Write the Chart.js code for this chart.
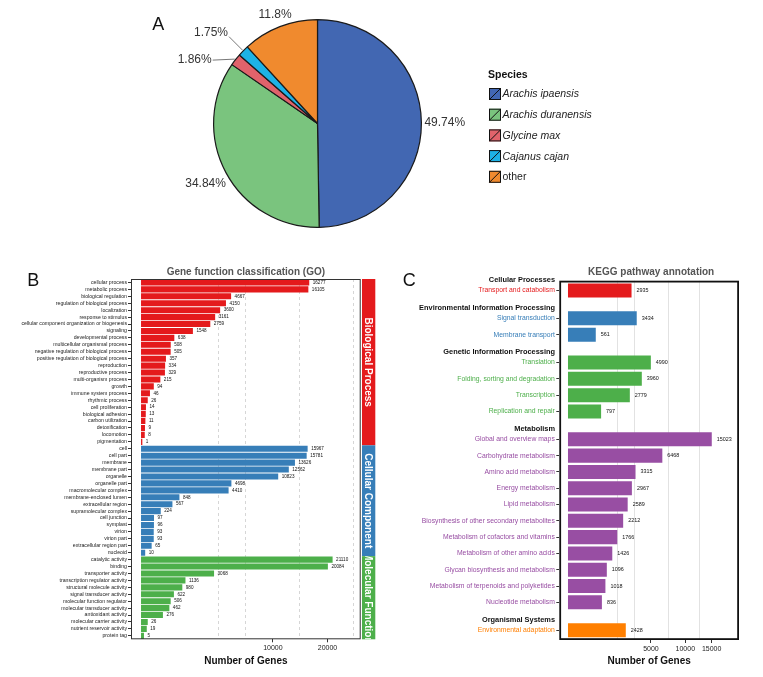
<!DOCTYPE html>
<html>
<head>
<meta charset="utf-8">
<title>Gene annotation</title>
<script src="https://cdn.jsdelivr.net/npm/chart.js@4.4.1/dist/chart.umd.min.js"></script>
<style>
  html, body { margin: 0; padding: 0; background: #fff; }
  body { position: relative; width: 763px; height: 677px; overflow: hidden; }
  canvas { position: absolute; }
</style>
</head>
<body>
<canvas id="pie" width="763" height="250" style="left:0;top:0"></canvas>
<canvas id="go" width="385" height="427" style="left:0;top:250px"></canvas>
<canvas id="kegg" width="378" height="427" style="left:385px;top:250px"></canvas>
<script>
// ---- data ----
const species = ['Arachis ipaensis', 'Arachis duranensis', 'Glycine max', 'Cajanus cajan', 'other'];
const speciesShare = [49.74, 34.84, 1.86, 1.75, 11.8];

const bpTerms = ['cellular process', 'metabolic process', 'biological regulation', 'regulation of biological process',
  'localization', 'response to stimulus', 'cellular component organization or biogenesis', 'signaling',
  'developmental process', 'multicellular organismal process', 'negative regulation of biological process',
  'positive regulation of biological process', 'reproduction', 'reproductive process', 'multi-organism process',
  'growth', 'immune system process', 'rhythmic process', 'cell proliferation', 'biological adhesion',
  'carbon utilization', 'detoxification', 'locomotion', 'pigmentation'];
const bpCounts = [16277, 16105, 4667, 4150, 3600, 3161, 2759, 1548, 638, 508, 505, 357, 334, 329, 215, 94, 46, 26, 14, 13, 11, 9, 8, 1];

const ccTerms = ['cell', 'cell part', 'membrane', 'membrane part', 'organelle', 'organelle part', 'macromolecular complex',
  'membrane-enclosed lumen', 'extracellular region', 'supramolecular complex', 'cell junction', 'symplast',
  'virion', 'virion part', 'extracellular region part', 'nucleoid'];
const ccCounts = [15967, 15781, 13626, 12562, 10823, 4698, 4410, 848, 567, 224, 97, 96, 93, 93, 65, 10];

const mfTerms = ['catalytic activity', 'binding', 'transporter activity', 'transcription regulator activity',
  'structural molecule activity', 'signal transducer activity', 'molecular function regulator',
  'molecular transducer activity', 'antioxidant activity', 'molecular carrier activity',
  'nutrient reservoir activity', 'protein tag'];
const mfCounts = [21110, 20084, 3068, 1136, 980, 622, 506, 462, 276, 26, 19, 5];

const goTicks = [10000, 20000];
const goGrid = [3434, 6300, 14525, 26080];

const keggGroups = ['Cellular Processes', 'Environmental Information Processing', 'Genetic Information Processing',
  'Metabolism', 'Organismal Systems'];
const keggPathways = [
  ['Transport and catabolism'],
  ['Signal transduction', 'Membrane transport'],
  ['Translation', 'Folding, sorting and degradation', 'Transcription', 'Replication and repair'],
  ['Global and overview maps', 'Carbohydrate metabolism', 'Amino acid metabolism', 'Energy metabolism',
   'Lipid metabolism', 'Biosynthesis of other secondary metabolites', 'Metabolism of cofactors and vitamins',
   'Metabolism of other amino acids', 'Glycan biosynthesis and metabolism',
   'Metabolism of terpenoids and polyketides', 'Nucleotide metabolism'],
  ['Environmental adaptation']
];
const keggCounts = [
  [2935],
  [3434, 561],
  [4990, 3960, 2779, 797],
  [15023, 6468, 3315, 2967, 2589, 2212, 1766, 1426, 1096, 1018, 836],
  [2428]
];
const keggTicks = [5000, 10000, 15000];
const keggGrid = [1764, 3260, 7310, 12520];

// ---- styles ----
const FONT = '"Liberation Sans", Arial, Helvetica, sans-serif';
const pieColors = ['#4267B2', '#7AC47E', '#E0636B', '#1DB2E6', '#F08A2E'];
const set1 = ['#E41A1C', '#377EB8', '#4DAF4A', '#984EA3', '#FF7F00'];
const pieLeaders = { 2: [-22, 1, 0], 3: [-13.5, -13.5, -4] };

Chart.defaults.font.family = FONT;
Chart.defaults.animation = false;

// square-root value axis (like scale_x_sqrt)
class SqrtScale extends Chart.LinearScale {
  static id = 'sqrt';
  static defaults = Chart.LinearScale.defaults;
  _t(v) { return Math.sign(v) * Math.sqrt(Math.abs(v)); }
  getPixelForValue(value) {
    const a = this._t(this.min), b = this._t(this.max);
    return this.getPixelForDecimal((this._t(value) - a) / (b - a));
  }
  getValueForPixel(pixel) {
    const a = this._t(this.min), b = this._t(this.max);
    const t = a + this.getDecimalForPixel(pixel) * (b - a);
    return Math.sign(t) * t * t;
  }
}
Chart.register(SqrtScale);

// ---- A: species pie ----
const pieDecor = {
  id: 'pieDecor',
  afterDatasetsDraw(chart) {
    const ctx = chart.ctx;
    const arcs = chart.getDatasetMeta(0).data;
    ctx.save();
    ctx.font = `12px ${FONT}`;
    ctx.fillStyle = '#333';
    ctx.strokeStyle = '#555';
    ctx.lineWidth = 0.8;
    ctx.textBaseline = 'middle';
    arcs.forEach((arc, i) => {
      const p = arc.getProps(['x', 'y', 'startAngle', 'endAngle', 'outerRadius'], true);
      const mid = (p.startAngle + p.endAngle) / 2;
      const cx = Math.cos(mid), cy = Math.sin(mid);
      const txt = speciesShare[i] + '%';
      const lead = pieLeaders[i];
      if (lead) {
        const ex = p.x + cx * (p.outerRadius + 1), ey = p.y + cy * (p.outerRadius + 1);
        const lx = ex + lead[0], ly = ey + lead[1];
        ctx.beginPath(); ctx.moveTo(ex, ey); ctx.lineTo(lx, ly); ctx.stroke();
        ctx.textAlign = 'right';
        ctx.fillText(txt, lx - 1, ly + lead[2]);
      } else {
        const w = ctx.measureText(txt).width;
        const d = p.outerRadius + 3 + Math.abs(cx) * w / 2 + Math.abs(cy) * 4.5;
        ctx.textAlign = 'center';
        ctx.fillText(txt, p.x + cx * d, p.y + cy * d);
      }
    });
    ctx.restore();
  },
  afterDraw(chart) {
    const ctx = chart.ctx;
    ctx.save();
    ctx.fillStyle = '#111';
    ctx.font = `18px ${FONT}`;
    ctx.textAlign = 'center';
    ctx.fillText('A', 158.3, 29.7);
    // legend
    ctx.textAlign = 'left';
    ctx.textBaseline = 'middle';
    ctx.font = `bold 10.5px ${FONT}`;
    ctx.fillText('Species', 488, 75);
    species.forEach((s, i) => {
      const y = 94 + i * 20.7;
      ctx.fillStyle = pieColors[i];
      ctx.fillRect(489, y - 6, 12, 12);
      ctx.strokeStyle = '#111';
      ctx.lineWidth = 1;
      ctx.strokeRect(489.5, y - 5.5, 11, 11);
      ctx.beginPath(); ctx.moveTo(489.5, y + 5.5); ctx.lineTo(500.5, y - 5.5); ctx.stroke();
      ctx.font = (s === 'other' ? '' : 'italic ') + `10.5px ${FONT}`;
      ctx.fillStyle = '#222';
      ctx.fillText(s, 502.5, y + 0.5);
    });
    ctx.restore();
  }
};

new Chart(document.getElementById('pie'), {
  type: 'pie',
  data: {
    labels: species,
    datasets: [{ data: speciesShare, backgroundColor: pieColors, borderColor: '#1a1a1a', borderWidth: 1.2 }]
  },
  options: {
    responsive: false,
    layout: { padding: { left: 213, right: 341, top: 19, bottom: 22 } },
    plugins: { legend: { display: false }, tooltip: { enabled: false } }
  },
  plugins: [pieDecor]
});

// ---- B: GO classification ----
const goSets = [
  { name: 'Biological Process', terms: bpTerms, counts: bpCounts, color: set1[0] },
  { name: 'Cellular Component', terms: ccTerms, counts: ccCounts, color: set1[1] },
  { name: 'Molecular Function', terms: mfTerms, counts: mfCounts, color: set1[2] }
];
const goLabels = goSets.flatMap(g => g.terms);
const goValues = goSets.flatMap(g => g.counts);
const goColors = goSets.flatMap(g => g.terms.map(() => g.color));

const goDecor = {
  id: 'goDecor',
  afterDatasetsDraw(chart) {
    const ctx = chart.ctx;
    ctx.save();
    ctx.font = `4.6px ${FONT}`;
    ctx.fillStyle = '#111';
    ctx.textBaseline = 'middle';
    chart.getDatasetMeta(0).data.forEach((bar, i) => ctx.fillText(String(goValues[i]), bar.x + 3.5, bar.y));
    ctx.restore();
  },
  afterDraw(chart) {
    const { ctx, chartArea: a } = chart;
    const y = chart.scales.y;
    ctx.save();
    ctx.strokeStyle = '#333';
    ctx.lineWidth = 1;
    ctx.strokeRect(a.left + 0.5, a.top + 0.5, a.right - a.left - 1, a.bottom - a.top - 1);
    const band = y.getPixelForValue(1) - y.getPixelForValue(0);
    let start = 0;
    goSets.forEach(g => {
      const top = y.getPixelForValue(start) - band / 2;
      const bot = y.getPixelForValue(start + g.terms.length - 1) + band / 2;
      ctx.fillStyle = g.color;
      ctx.fillRect(a.right + 1.3, top, 13.3, bot - top);
      ctx.save();
      ctx.beginPath(); ctx.rect(a.right + 1.3, top, 13.3, bot - top); ctx.clip();
      ctx.translate(a.right + 8, (top + bot) / 2);
      ctx.rotate(Math.PI / 2);
      ctx.font = `bold 10px ${FONT}`;
      ctx.fillStyle = '#fff';
      ctx.textAlign = 'center';
      ctx.textBaseline = 'middle';
      ctx.fillText(g.name, 0, 0.5);
      ctx.restore();
      start += g.terms.length;
    });
    ctx.font = `bold 10px ${FONT}`;
    ctx.fillStyle = '#555';
    ctx.textAlign = 'center';
    ctx.textBaseline = 'middle';
    ctx.fillText('Gene function classification (GO)', (a.left + a.right) / 2, a.top - 6.5);
    ctx.fillStyle = '#111';
    ctx.font = `18px ${FONT}`;
    ctx.textBaseline = 'alphabetic';
    ctx.fillText('B', 33.3, 35.7);
    ctx.restore();
  }
};

new Chart(document.getElementById('go'), {
  type: 'bar',
  data: {
    labels: goLabels,
    datasets: [{ data: goValues, backgroundColor: goColors, borderWidth: 0, barPercentage: 0.88, categoryPercentage: 1 }]
  },
  options: {
    responsive: false,
    indexAxis: 'y',
    layout: { padding: { left: 0, right: 24.3, top: 29, bottom: 10 } },
    plugins: { legend: { display: false }, tooltip: { enabled: false } },
    scales: {
      x: {
        type: 'sqrt', min: -57.8, max: 27756,
        afterBuildTicks: s => { s.ticks = goGrid.concat(goTicks).sort((p, q) => p - q).map(v => ({ value: v })); },
        afterFit: s => { s.height = 27.7; },
        ticks: {
          autoSkip: false, maxRotation: 0, padding: 1.5, color: '#222', font: { size: 7 },
          callback: v => goTicks.includes(v) ? String(v) : ''
        },
        grid: {
          color: c => (c.tick && goTicks.includes(c.tick.value)) ? 'rgba(0,0,0,0)' : '#d6d6d6',
          tickColor: c => (c.tick && goTicks.includes(c.tick.value)) ? '#333' : 'rgba(0,0,0,0)',
          tickLength: 3, tickBorderDash: []
        },
        border: { display: false, dash: [3, 3] },
        title: { display: true, text: 'Number of Genes', color: '#111', font: { size: 10, weight: 'bold' }, padding: { top: 2, bottom: 0 } }
      },
      y: {
        afterFit: s => { s.width = 131; },
        ticks: { autoSkip: false, padding: 1, color: '#222', font: { size: 5.2 } },
        grid: { drawOnChartArea: false, offset: false, tickLength: 3, tickColor: '#333' },
        border: { display: false }
      }
    }
  },
  plugins: [goDecor]
});

// ---- C: KEGG pathways ----
const keggRows = [];
keggGroups.forEach((g, gi) => {
  keggPathways[gi].forEach((p, k) => {
    keggRows.push({ label: p, count: keggCounts[gi][k], group: gi, pos: keggRows.length + gi * 0.71 });
  });
});
const keggHeads = keggGroups.map((g, gi) => keggRows.find(r => r.group === gi).pos - 0.62);
const keggLast = keggRows[keggRows.length - 1].pos;

const keggDecor = {
  id: 'keggDecor',
  afterDatasetsDraw(chart) {
    const ctx = chart.ctx;
    ctx.save();
    ctx.font = `5.4px ${FONT}`;
    ctx.fillStyle = '#111';
    ctx.textBaseline = 'middle';
    chart.getDatasetMeta(0).data.forEach((bar, i) => ctx.fillText(String(keggRows[i].count), bar.x + 5, bar.y));
    ctx.restore();
  },
  afterDraw(chart) {
    const { ctx, chartArea: a } = chart;
    const y = chart.scales.y;
    ctx.save();
    ctx.strokeStyle = '#111';
    ctx.lineWidth = 1.8;
    ctx.strokeRect(a.left + 0.9, a.top + 0.9, a.right - a.left - 1.8, a.bottom - a.top - 1.8);
    ctx.font = `bold 7.4px ${FONT}`;
    ctx.fillStyle = '#111';
    ctx.textAlign = 'right';
    ctx.textBaseline = 'middle';
    keggGroups.forEach((g, gi) => ctx.fillText(g, a.left - 4.3, y.getPixelForValue(keggHeads[gi])));
    ctx.font = `bold 10px ${FONT}`;
    ctx.fillStyle = '#555';
    ctx.textAlign = 'center';
    ctx.fillText('KEGG pathway annotation', (a.left + a.right) / 2 + 2, a.top - 8);
    ctx.fillStyle = '#111';
    ctx.font = `18px ${FONT}`;
    ctx.textBaseline = 'alphabetic';
    ctx.fillText('C', 24.3, 36.4);
    ctx.restore();
  }
};

new Chart(document.getElementById('kegg'), {
  type: 'bar',
  data: {
    datasets: [{
      data: keggRows.map(r => ({ x: r.count, y: r.pos })),
      backgroundColor: keggRows.map(r => set1[r.group]),
      borderWidth: 0, barPercentage: 0.86, categoryPercentage: 1
    }]
  },
  options: {
    responsive: false,
    indexAxis: 'y',
    layout: { padding: { left: 0, right: 24, top: 30.7, bottom: 10 } },
    plugins: { legend: { display: false }, tooltip: { enabled: false } },
    scales: {
      x: {
        type: 'sqrt', min: -54.8, max: 21250,
        afterBuildTicks: s => { s.ticks = keggGrid.concat(keggTicks).sort((p, q) => p - q).map(v => ({ value: v })); },
        afterFit: s => { s.height = 27; },
        ticks: {
          autoSkip: false, maxRotation: 0, padding: 1.5, color: '#222', font: { size: 7 },
          callback: v => keggTicks.includes(v) ? String(v) : ''
        },
        grid: {
          color: c => (c.tick && keggTicks.includes(c.tick.value)) ? 'rgba(0,0,0,0)' : '#e2e2e2',
          tickColor: c => (c.tick && keggTicks.includes(c.tick.value)) ? '#333' : 'rgba(0,0,0,0)',
          tickLength: 3
        },
        border: { display: false },
        title: { display: true, text: 'Number of Genes', color: '#111', font: { size: 10, weight: 'bold' }, padding: { top: 2, bottom: 0 } }
      },
      y: {
        type: 'linear', reverse: true, offset: false, min: -0.6, max: keggLast + 0.6,
        afterBuildTicks: s => { s.ticks = keggRows.map(r => ({ value: r.pos })); },
        afterFit: s => { s.width = 174.3; },
        ticks: {
          autoSkip: false, padding: 1.5, font: { size: 6.8 },
          color: c => set1[keggRows[c.index] ? keggRows[c.index].group : 0],
          callback: (v, i) => keggRows[i] ? keggRows[i].label : ''
        },
        grid: { drawOnChartArea: false, offset: false, tickLength: 3, tickColor: '#333' },
        border: { display: false }
      }
    }
  },
  plugins: [keggDecor]
});
</script>
</body>
</html>
